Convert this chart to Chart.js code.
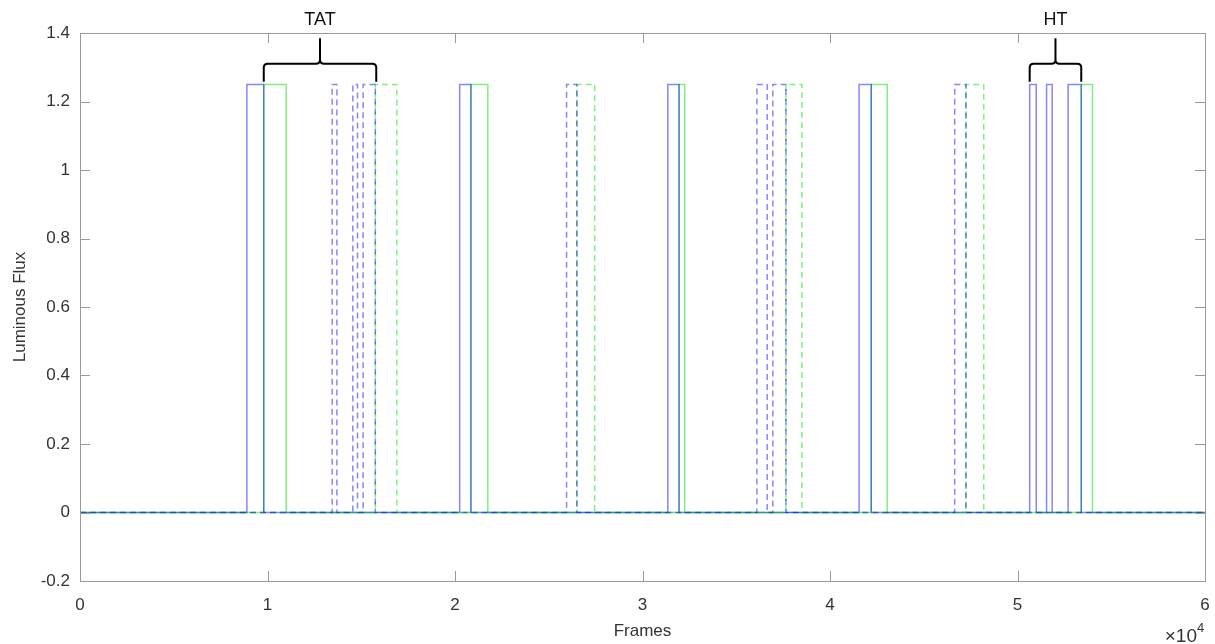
<!DOCTYPE html>
<html>
<head>
<meta charset="utf-8">
<script src="https://cdn.jsdelivr.net/npm/chart.js@4/dist/chart.umd.min.js"></script>
<style>
html,body{margin:0;padding:0;background:#fff;}
#wrap{width:1215px;height:644px;position:relative;}
</style>
</head>
<body>
<div id="wrap"><canvas id="c" width="1215" height="644"></canvas></div>
<script>
// ---- data (frames) ----
const pulseHeight = 1.25;
const xMin = 0, xMax = 60000;
const blueSolidPulses  = [[8900,9800],[20250,20850],[31350,31950],[41550,42200],[50650,51000],[51550,51850],[52700,53400]];
const greenSolidPulses = [[9800,11000],[20850,21750],[31950,32250],[42200,43050],[53400,54000]];
const blueDashedPulses = [[13450,13700],[14550,14800],[15100,15750],[25950,26500],[36100,36650],[36950,37650],[46650,47250]];
const greenDashedPulses= [[15750,16900],[26500,27450],[37650,38500],[47250,48200]];
const xTickValues = [0,10000,20000,30000,40000,50000,60000];
const xTickLabels = ['0','1','2','3','4','5','6'];
const yTickValues = [-0.2,0,0.2,0.4,0.6,0.8,1,1.2,1.4];
const yTickLabels = ['-0.2','0','0.2','0.4','0.6','0.8','1','1.2','1.4'];
// annotations: [label, x start, x end] in frames
const braceLabels = ['TAT','HT'];
const braceStarts = [9800, 50650];
const braceEnds   = [15800, 53400];

function toPoints(pulses){
  const pts=[{x:xMin,y:0}];
  pulses.forEach(p=>{
    pts.push({x:p[0],y:0},{x:p[0],y:pulseHeight},{x:p[1],y:pulseHeight},{x:p[1],y:0});
  });
  pts.push({x:xMax,y:0});
  return pts;
}

const FONT = "'Liberation Sans', Arial, Helvetica, sans-serif";
const TXT = '#333333';
const BLUE = 'rgba(0,0,255,0.48)';
const GREEN = 'rgba(0,225,0,0.5)';

const frame = {
  id:'frame',
  afterDraw(chart){
    const ctx=chart.ctx, a=chart.chartArea, xs=chart.scales.x, ys=chart.scales.y;
    ctx.save();
    ctx.strokeStyle='#9a9a9a';
    ctx.lineWidth=1;
    ctx.strokeRect(Math.round(a.left)+0.5, Math.round(a.top)+0.5, Math.round(a.right-a.left), Math.round(a.bottom-a.top));
    const tl=10;
    ctx.beginPath();
    xTickValues.forEach(v=>{
      const px=Math.round(xs.getPixelForValue(v))+0.5;
      ctx.moveTo(px,a.bottom); ctx.lineTo(px,a.bottom-tl);
      ctx.moveTo(px,a.top); ctx.lineTo(px,a.top+tl);
    });
    yTickValues.forEach(v=>{
      const py=Math.round(ys.getPixelForValue(v))+0.5;
      ctx.moveTo(a.left,py); ctx.lineTo(a.left+tl,py);
      ctx.moveTo(a.right,py); ctx.lineTo(a.right-tl,py);
    });
    ctx.stroke();
    // x10^4
    ctx.fillStyle=TXT;
    ctx.font='19px '+FONT;
    ctx.textBaseline='alphabetic';
    ctx.textAlign='right';
    ctx.fillText('\u00d710', a.right-8, 642);
    ctx.font='13px '+FONT;
    ctx.textAlign='left';
    ctx.fillText('4', a.right-8, 632);
    // braces
    ctx.strokeStyle='#000';
    ctx.lineWidth=2;
    ctx.lineJoin='round';
    const yEnd = ys.getPixelForValue(1.258);
    const yMid = ys.getPixelForValue(1.31);
    const yTip = ys.getPixelForValue(1.385);
    braceLabels.forEach((lab,i)=>{
      const x0=xs.getPixelForValue(braceStarts[i]), x1=xs.getPixelForValue(braceEnds[i]);
      const xc=(x0+x1)/2, r=4;
      ctx.beginPath();
      ctx.moveTo(x0,yEnd);
      ctx.lineTo(x0,yMid+r);
      ctx.quadraticCurveTo(x0,yMid,x0+r,yMid);
      ctx.lineTo(xc-r,yMid);
      ctx.quadraticCurveTo(xc,yMid,xc,yMid-r);
      ctx.lineTo(xc,yTip);
      ctx.moveTo(xc,yMid-r);
      ctx.quadraticCurveTo(xc,yMid,xc+r,yMid);
      ctx.lineTo(x1-r,yMid);
      ctx.quadraticCurveTo(x1,yMid,x1,yMid+r);
      ctx.lineTo(x1,yEnd);
      ctx.stroke();
      ctx.fillStyle='#111';
      ctx.font='18px '+FONT;
      ctx.textAlign='center';
      ctx.textBaseline='middle';
      ctx.fillText(lab, xc, 20);
    });
    ctx.restore();
  }
};

const ds = (label, pulses, color, dashed) => ({
  label, data: toPoints(pulses), borderColor: color, borderWidth: 1.5,
  borderDash: dashed ? [6,4] : [], pointRadius: 0, tension: 0, fill: false
});

new Chart(document.getElementById('c'), {
  type: 'line',
  data: { datasets: [
    ds('blue dashed', blueDashedPulses, BLUE, true),
    ds('green dashed', greenDashedPulses, GREEN, true),
    ds('blue solid', blueSolidPulses, BLUE, false),
    ds('green solid', greenSolidPulses, GREEN, false)
  ]},
  options: {
    responsive: false, animation: false, parsing: true,
    layout: { padding: { left: 0, right: 10, top: 33, bottom: 0 } },
    plugins: { legend: { display: false }, tooltip: { enabled: false } },
    scales: {
      x: {
        type: 'linear', min: xMin, max: xMax,
        afterBuildTicks: s => { s.ticks = xTickValues.map(v => ({ value: v })); },
        afterFit: s => { s.height = 63; s.paddingLeft = 0; s.paddingRight = 0; },
        grid: { display: false, drawTicks: false },
        border: { display: false },
        ticks: { color: TXT, font: { family: FONT, size: 17 }, padding: 14, maxRotation: 0,
          callback: (v) => { const i = xTickValues.indexOf(v); return i >= 0 ? xTickLabels[i] : ''; } },
        title: { display: true, text: 'Frames', color: TXT, font: { family: FONT, size: 17 }, padding: { top: 0, bottom: 2 } }
      },
      y: {
        type: 'linear', min: -0.2, max: 1.4,
        afterBuildTicks: s => { s.ticks = yTickValues.map(v => ({ value: v })); },
        afterFit: s => { s.width = 80; s.paddingTop = 0; s.paddingBottom = 0; },
        grid: { display: false, drawTicks: false },
        border: { display: false },
        ticks: { color: TXT, font: { family: FONT, size: 17 }, padding: 10,
          callback: (v) => { const i = yTickValues.findIndex(t => Math.abs(t - v) < 1e-9); return i >= 0 ? yTickLabels[i] : ''; } },
        title: { display: true, text: 'Luminous Flux', color: TXT, font: { family: FONT, size: 17 }, padding: { top: 10, bottom: 0 } }
      }
    }
  },
  plugins: [frame]
});
</script>
</body>
</html>
